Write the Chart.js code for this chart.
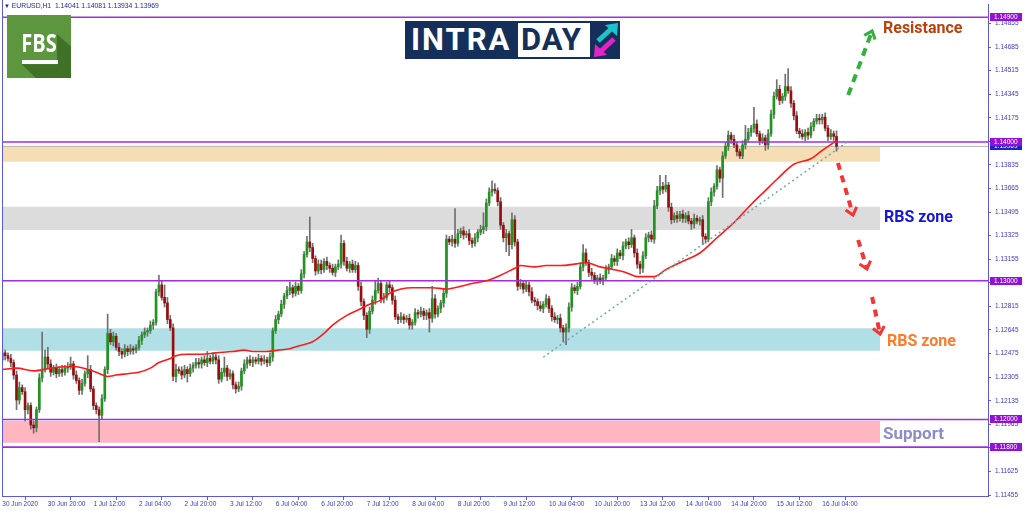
<!DOCTYPE html>
<html><head><meta charset="utf-8">
<script src="https://cdn.jsdelivr.net/npm/chart.js@4.4.1/dist/chart.umd.min.js"></script>
<style>
html,body{margin:0;padding:0;background:#fff;}
#wrap{position:relative;width:1024px;height:511px;overflow:hidden;}
canvas{position:absolute;left:0;top:0;}
.ann{position:absolute;font-family:Roboto,'Open Sans',sans-serif;font-weight:700;font-size:16px;line-height:16px;white-space:nowrap;}
</style></head><body>
<div id="wrap">
<canvas id="c" width="1024" height="511"></canvas>
<div id="hdr" style="position:absolute;left:4px;top:2px;font:6.8px 'Liberation Sans',Arial,sans-serif;color:#1f1f9e;white-space:nowrap;"><span style="font-size:6px">&#9660;</span> EURUSD,H1&nbsp; 1.14041 1.14081 1.13934 1.13969</div>
<div id="fbs" style="position:absolute;left:7px;top:15px;width:64px;height:63px;background:#5c963f;overflow:hidden;">
  <div style="position:absolute;left:0;top:0;width:64px;height:63px;background:#3f7127;clip-path:polygon(78% 30%,100% 50%,100% 100%,45% 100%,23% 78%,78% 78%);"></div>
  <div style="position:absolute;left:0;top:13px;width:64px;text-align:center;color:#fff;font:bold 25px 'Open Sans',sans-serif;line-height:28px;transform:scaleX(0.8);">FBS</div>
  <div style="position:absolute;left:15px;top:45px;width:36px;height:4px;background:#fff;"></div>
</div>
<div id="intraday" style="position:absolute;left:405px;top:21px;width:215px;height:38px;background:#14305a;">
  <div style="position:absolute;left:6px;top:2px;color:#fff;font:bold 31px Roboto,sans-serif;line-height:34px;letter-spacing:2px;">INTRA</div>
  <div style="position:absolute;left:113px;top:2px;width:72px;height:34px;background:#fff;"></div>
  <div style="position:absolute;left:116px;top:2px;color:#14305a;font:bold 31px Roboto,sans-serif;line-height:34px;letter-spacing:1px;">DAY</div>
  <svg style="position:absolute;left:186px;top:0px;" width="29" height="38" viewBox="0 0 29 38">
    <line x1="7" y1="20" x2="20" y2="8" stroke="#1cc3c8" stroke-width="5"/>
    <polygon points="27,2 26,15 14,4" fill="#1cc3c8"/>
    <line x1="23" y1="18" x2="10" y2="30" stroke="#e820c8" stroke-width="5"/>
    <polygon points="3,36 4,23 16,34" fill="#e820c8"/>
  </svg>
</div>
<div class="ann" style="left:883px;top:20px;color:#b8410e;">Resistance</div>
<div class="ann" style="left:884px;top:209px;color:#1616d8;">RBS zone</div>
<div class="ann" style="left:887px;top:333px;color:#ff7a2a;">RBS zone</div>
<div class="ann" style="left:883px;top:425px;color:#8c8ccc;font-size:17px;">Support</div>
</div>
<script>
// ---------- data ----------
const xTickBars = [0,16,32,48,64,80,96,112,128,144,160,176,192,208,224,240,256,272,288];
const xTickLabels = ["30 Jun 2020","30 Jun 20:00","1 Jul 12:00","2 Jul 04:00","2 Jul 20:00","3 Jul 12:00","6 Jul 04:00","6 Jul 20:00","7 Jul 12:00","8 Jul 04:00","8 Jul 20:00","9 Jul 12:00","10 Jul 04:00","10 Jul 20:00","13 Jul 12:00","14 Jul 04:00","14 Jul 20:00","15 Jul 12:00","16 Jul 04:00"];
const yTickValues = [1.11455,1.11625,1.11795,1.11965,1.12135,1.12305,1.12475,1.12645,1.12815,1.12985,1.13155,1.13325,1.13495,1.13665,1.13835,1.14005,1.14175,1.14345,1.14515,1.14685,1.14855];

const firstOpen = 1.1243;
const closes = [
1.1248,1.1246,1.1244,1.1241,1.1232,1.1214,1.1223,1.1220,1.1207,1.1210,
1.1196,1.1194,1.1207,1.1230,1.1236,1.1245,1.1240,1.1234,1.1237,1.1233,
1.1236,1.1234,1.1237,1.1238,1.1240,1.1232,1.1228,1.1221,1.1226,1.1233,
1.1236,1.1222,1.1210,1.1207,1.1203,1.1215,1.1236,1.1262,1.1256,1.1260,
1.1252,1.1249,1.1247,1.1251,1.1249,1.1251,1.1250,1.1252,1.1257,1.1261,
1.1263,1.1264,1.1268,1.1270,1.1292,1.1297,1.1288,1.1284,1.1272,1.1266,
1.1231,1.1236,1.1235,1.1232,1.1236,1.1233,1.1237,1.1239,1.1241,1.1240,
1.1243,1.1241,1.1244,1.1242,1.1245,1.1243,1.1229,1.1234,1.1237,1.1231,
1.1233,1.1225,1.1222,1.1224,1.1235,1.1240,1.1243,1.1241,1.1243,1.1242,
1.1244,1.1242,1.1243,1.1241,1.1245,1.1264,1.1272,1.1276,1.1283,1.1289,
1.1293,1.1295,1.1291,1.1296,1.1293,1.1305,1.1319,1.1328,1.1324,1.1316,
1.1307,1.1312,1.1308,1.1314,1.1311,1.1309,1.1306,1.1310,1.1312,1.1327,
1.1314,1.1309,1.1312,1.1308,1.1311,1.1296,1.1285,1.1275,1.1265,1.1278,
1.1286,1.1293,1.1298,1.1287,1.1288,1.1297,1.1295,1.1286,1.1274,1.1272,
1.1274,1.1272,1.1273,1.1268,1.1270,1.1277,1.1276,1.1278,1.1275,1.1277,
1.1273,1.1287,1.1276,1.1280,1.1284,1.1291,1.1330,1.1328,1.1330,1.1327,
1.1334,1.1336,1.1333,1.1334,1.1329,1.1327,1.1331,1.1335,1.1337,1.1339,
1.1356,1.1364,1.1366,1.1365,1.1357,1.1340,1.1331,1.1334,1.1326,1.1344,
1.1328,1.1296,1.1298,1.1294,1.1297,1.1292,1.1286,1.1285,1.1282,1.1280,
1.1283,1.1287,1.1280,1.1274,1.1272,1.1273,1.1266,1.1263,1.1266,1.1281,
1.1295,1.1293,1.1296,1.1310,1.1320,1.1313,1.1306,1.1304,1.1300,1.1302,
1.1300,1.1302,1.1308,1.1310,1.1316,1.1314,1.1320,1.1318,1.1325,1.1328,
1.1326,1.1331,1.1320,1.1312,1.1309,1.1318,1.1331,1.1333,1.1330,1.1354,
1.1365,1.1368,1.1366,1.1369,1.1353,1.1344,1.1347,1.1345,1.1348,1.1345,
1.1347,1.1343,1.1341,1.1345,1.1343,1.1344,1.1332,1.1330,1.1357,1.1364,
1.1368,1.1380,1.1374,1.1390,1.1397,1.1405,1.1402,1.1398,1.1393,1.1390,
1.1398,1.1402,1.1407,1.1410,1.1413,1.1406,1.1401,1.1403,1.1398,1.1406,
1.1420,1.1433,1.1438,1.1430,1.1433,1.1440,1.1437,1.1428,1.1419,1.1408,
1.1406,1.1404,1.1407,1.1405,1.1411,1.1415,1.1417,1.1416,1.1418,1.1410,
1.1404,1.1406,1.14041,1.13969];
// upper / lower wick length above / below the body, in pips
const upWick = [
3,2,2,3,2,3,4,2,3,2, 2,3,2,3,27,5,7,3,2,3, 2,3,2,3,5,2,3,2,3,2, 10,3,2,2,2,3,2,14,3,3,
2,3,2,3,2,3,2,2,3,2, 3,2,3,2,2,7,3,9,4,3, 3,4,2,3,3,2,3,2,3,3, 2,3,5,2,3,2,3,3,8,2,
3,2,2,3,2,3,2,3,2,2, 3,2,3,2,3,2,3,2,3,2, 3,4,2,3,2,3,2,4,18,3, 2,3,3,2,3,2,3,2,3,6,
2,3,2,3,3,2,3,2,2,3, 3,7,4,2,3,2,3,2,3,2, 3,2,2,3,2,3,2,3,2,2, 3,9,3,2,2,3,3,2,3,22,
3,2,3,2,3,2,3,2,3,10, 3,3,6,4,2,3,2,3,2,5, 3,2,3,2,3,2,3,2,2,3, 2,3,2,2,3,2,3,2,3,3,
3,2,3,3,6,3,2,3,2,2, 3,2,3,2,3,2,3,2,3,2, 3,6,2,3,2,3,3,2,3,4, 3,8,3,7,2,3,2,3,2,3,
2,3,2,3,2,2,3,2,3,3, 2,3,2,3,3,3,2,3,2,2, 3,10,3,2,12,3,2,3,2,3, 3,3,7,3,2,9,13,3,2,3,
2,3,2,3,3,2,3,3,2,3, 2,3,2,4];
const downWick = [
2,3,2,3,3,7,3,2,8,3, 3,4,3,2,3,2,3,3,2,3, 2,3,2,3,2,3,2,3,3,2, 3,2,3,3,19,3,2,3,2,3,
2,3,3,2,3,2,3,2,2,3, 2,3,2,3,2,3,2,3,3,2, 3,4,2,3,2,6,2,3,2,3, 3,2,3,2,2,3,3,2,3,3,
2,3,3,2,3,2,3,2,3,2, 2,3,2,3,2,3,2,3,2,3, 2,3,3,2,3,2,3,2,3,3, 3,2,3,2,3,3,2,3,2,3,
3,2,3,2,2,3,3,3,6,3, 2,3,2,3,3,2,3,3,2,3, 2,3,2,3,3,2,3,2,3,3, 10,3,3,2,3,3,3,2,3,3,
2,3,3,2,3,3,2,3,2,3, 3,2,3,2,3,3,3,10,8,3, 3,3,2,3,2,3,2,3,3,2, 3,2,3,3,2,3,3,7,9,3,
3,2,3,2,3,2,3,3,2,3, 2,3,2,3,2,3,3,2,3,2, 3,2,3,3,4,3,2,3,2,3, 2,3,3,2,3,3,2,3,2,3,
3,2,4,3,2,3,6,3,2,3, 3,2,3,14,2,3,3,2,3,2, 2,3,2,3,3,2,3,2,4,3, 2,3,2,3,2,3,2,3,3,2,
3,2,3,3,2,3,2,3,3,2, 3,2,3,3.5];

// moving average
const maBars = [0,5,11,17,23,26,30,33,37,40,44,48,52,55,59,61,65,70,75,81,85,88,93,97,101,104,109,113,116,121,126,129,133,136,140,144,148,151,156,161,165,170,175,180,182,187,191,196,201,205,210,215,219,223,229,233,239,245,251,257,263,268,272,278,284,288,293];
const maValues = [1.1236,1.1237,1.1235,1.1237,1.1238,1.1238,1.1236,1.1234,1.1231,1.1232,1.1233,1.1234,1.1237,1.1241,1.1244,1.1246,1.1247,1.1247,1.1248,1.1249,1.1250,1.1249,1.1249,1.1250,1.1251,1.1253,1.1256,1.1262,1.1268,1.1275,1.1280,1.1283,1.1286,1.1291,1.1294,1.1295,1.1295,1.1295,1.1294,1.1296,1.1298,1.1300,1.1304,1.1309,1.1311,1.1310,1.1311,1.1311,1.1312,1.1313,1.1310,1.1308,1.1306,1.1303,1.1303,1.1308,1.1314,1.1320,1.1331,1.1342,1.1355,1.1365,1.1373,1.1384,1.1388,1.1394,1.1401];

const trendBars = [190, 297];
const trendValues = [1.12449, 1.14003];

const levelValues = [1.14900, 1.14000, 1.13000, 1.12000, 1.11800];
const bidPrice = 1.13969;

const zoneTops = [1.13972, 1.13534, 1.12657, 1.11989];
const zoneBottoms = [1.13858, 1.13366, 1.12496, 1.11832];
const zoneColors = ['#f5deb3', '#dcdcdc', '#b0e0e6', '#ffb6c1'];
const zoneEndBar = 308.3;

const greenArrowBars = [297.1, 305.5];
const greenArrowValues = [1.14339, 1.14801];
const redArrowBars = [[293.5, 298.8], [300.6, 303.7], [305.5, 308.3]];
const redArrowValues = [[1.13849, 1.13474], [1.13294, 1.13085], [1.12883, 1.12616]];

// ---------- chart ----------
const X_MIN = -0.105, X_MAX = 346.2, Y_MIN = 1.114479, Y_MAX = 1.149956;
const PIP = 0.0001;
const AXIS = '#5a5ad8';
const TXT = '#3a3ac4';

const opens = closes.map((c, i) => (i === 0 ? firstOpen : closes[i - 1]));
const highs = closes.map((c, i) => Math.max(opens[i], c) + upWick[i] * PIP);
const lows = closes.map((c, i) => Math.min(opens[i], c) - downWick[i] * PIP);

const datasets = [];
zoneTops.forEach((t, k) => datasets.push({
  type: 'line', data: [{x: X_MIN, y: t}, {x: zoneEndBar, y: t}],
  borderColor: 'transparent', borderWidth: 0, pointRadius: 0,
  fill: {value: zoneBottoms[k]}, backgroundColor: zoneColors[k], order: 20
}));
datasets.push({
  type: 'line', data: [{x: X_MIN, y: bidPrice}, {x: X_MAX, y: bidPrice}],
  borderColor: '#b4b4b4', borderWidth: 1, pointRadius: 0, fill: false, order: 9
});
datasets.push({
  type: 'bar', data: closes.map((c, i) => ({x: i, y: [lows[i], highs[i]]})),
  backgroundColor: '#707070', barThickness: 1, grouped: false, order: 8
});
datasets.push({
  type: 'bar', data: closes.map((c, i) => ({x: i, y: [opens[i], c]})),
  backgroundColor: closes.map((c, i) => (c >= opens[i] ? '#1f951f' : '#980e0e')),
  barThickness: 2, minBarLength: 1, grouped: false, order: 7
});
levelValues.forEach(v => datasets.push({
  type: 'line', data: [{x: X_MIN, y: v}, {x: X_MAX, y: v}],
  borderColor: '#a02ce4', borderWidth: 1.6, pointRadius: 0, fill: false, order: 5
}));
datasets.push({
  type: 'line', data: maBars.map((b, i) => ({x: b, y: maValues[i]})),
  borderColor: '#ff1a1a', borderWidth: 1.6, pointRadius: 0, fill: false,
  cubicInterpolationMode: 'monotone', order: 3
});
datasets.push({
  type: 'line', data: trendBars.map((b, i) => ({x: b, y: trendValues[i]})),
  borderColor: '#6fa9b2', borderWidth: 1.5, borderDash: [2, 3], pointRadius: 0, fill: false, order: 2
});
datasets.push({
  type: 'line', data: greenArrowBars.map((b, i) => ({x: b, y: greenArrowValues[i]})),
  borderColor: '#35b040', borderWidth: 4, borderDash: [8, 6], pointRadius: 0, fill: false,
  arrowHead: true, order: 1
});
redArrowBars.forEach((bars, k) => datasets.push({
  type: 'line', data: bars.map((b, i) => ({x: b, y: redArrowValues[k][i]})),
  borderColor: '#f53434', borderWidth: 4, borderDash: [7, 6], pointRadius: 0, fill: false,
  arrowHead: true, order: 1
}));

const arrowHeadPlugin = {
  id: 'arrowHeads',
  afterDatasetsDraw(chart) {
    const ctx = chart.ctx;
    chart.data.datasets.forEach((ds, i) => {
      if (!ds.arrowHead) return;
      const pts = chart.getDatasetMeta(i).data;
      const a = pts[pts.length - 2], b = pts[pts.length - 1];
      const ang = Math.atan2(b.y - a.y, b.x - a.x);
      const L = 9, spread = 0.7;
      ctx.save();
      ctx.strokeStyle = ds.borderColor; ctx.lineWidth = 3; ctx.setLineDash([]);
      ctx.beginPath();
      ctx.moveTo(b.x - L * Math.cos(ang - spread), b.y - L * Math.sin(ang - spread));
      ctx.lineTo(b.x, b.y);
      ctx.lineTo(b.x - L * Math.cos(ang + spread), b.y - L * Math.sin(ang + spread));
      ctx.stroke();
      ctx.restore();
    });
  }
};

const framePlugin = {
  id: 'frame',
  afterDraw(chart) {
    const {ctx, chartArea: ca} = chart;
    const y = chart.scales.y;
    ctx.save();
    ctx.strokeStyle = AXIS; ctx.lineWidth = 1;
    ctx.beginPath(); ctx.moveTo(ca.left + 0.5, 0); ctx.lineTo(ca.left + 0.5, ca.bottom); ctx.stroke();
    ctx.font = '6.5px "Liberation Sans", Arial, sans-serif';
    ctx.textBaseline = 'middle'; ctx.textAlign = 'left';
    const box = (v, col) => {
      const py = Math.round(y.getPixelForValue(v));
      ctx.fillStyle = col; ctx.fillRect(ca.right + 2, py - 4, 32, 8);
      ctx.fillStyle = '#ffffff'; ctx.fillText(v.toFixed(5), ca.right + 6, py + 0.5);
    };
    box(bidPrice, '#2020c8');
    levelValues.forEach(v => box(v, '#9410d4'));
    ctx.restore();
  }
};

new Chart(document.getElementById('c'), {
  type: 'bar',
  data: {datasets},
  options: {
    responsive: false, animation: false, devicePixelRatio: 1,
    layout: {padding: {left: 2, top: 4, right: 0, bottom: 0}},
    plugins: {legend: {display: false}, tooltip: {enabled: false}},
    scales: {
      x: {
        type: 'linear', min: X_MIN, max: X_MAX, offset: false, bounds: 'data',
        grid: {drawOnChartArea: false, drawTicks: true, tickLength: 4, color: AXIS, tickColor: AXIS},
        border: {display: true, color: AXIS, width: 1},
        ticks: {
          autoSkip: false, maxRotation: 0, minRotation: 0, align: 'start', padding: 0,
          color: TXT, font: {family: 'Liberation Sans', size: 6.5},
          callback: (v) => { const k = xTickBars.indexOf(v); return k >= 0 ? xTickLabels[k] : ''; }
        },
        afterBuildTicks: (s) => { s.ticks = xTickBars.map(v => ({value: v})); },
        afterFit: (s) => { s.height = 15; s.paddingLeft = 0; s.paddingRight = 0; }
      },
      y: {
        type: 'linear', position: 'right', min: Y_MIN, max: Y_MAX, bounds: 'data',
        grid: {drawOnChartArea: false, drawTicks: true, tickLength: 3, color: AXIS, tickColor: AXIS},
        border: {display: true, color: AXIS, width: 1},
        ticks: {
          autoSkip: false, padding: 4, color: TXT, font: {family: 'Liberation Sans', size: 6.5},
          callback: (v) => v.toFixed(5)
        },
        afterBuildTicks: (s) => { s.ticks = yTickValues.map(v => ({value: v})); },
        afterFit: (s) => { s.width = 36; s.paddingTop = 0; s.paddingBottom = 0; }
      }
    }
  },
  plugins: [arrowHeadPlugin, framePlugin]
});
</script>
</body></html>
